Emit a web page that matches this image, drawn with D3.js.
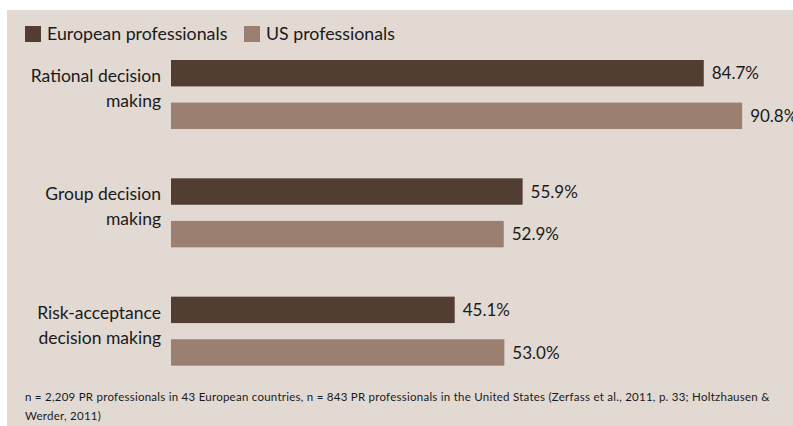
<!DOCTYPE html>
<html lang="en">
  <head>
    <meta charset="UTF-8" />
    <title>Decision making styles</title>
    <script src="https://cdn.jsdelivr.net/npm/d3@7"></script>
    <style>
      body { margin: 0; background: #fff; }
      svg { display: block; font-family: Lato, "Open Sans", sans-serif; }
    </style>
  </head>
  <body>
    <div id="chart"></div>
    <script>
      const categories = [["Rational decision", "making"], ["Group decision", "making"], ["Risk-acceptance", "decision making"]];
      const seriesNames = ["European professionals", "US professionals"];
      const european = [84.7, 55.9, 45.1];
      const us = [90.8, 52.9, 53.0];
      const colors = ["#523d33", "#9b8072"];

      const width = 793, height = 426;
      const svg = d3.select("#chart").append("svg")
        .attr("width", width)
        .attr("height", height);

      // background panel
      svg.append("rect")
        .attr("x", 7).attr("y", 10)
        .attr("width", width - 7).attr("height", height - 10)
        .attr("fill", "#e2d9d3");

      const x = d3.scaleLinear().domain([0, 100]).range([171, 171 + 629]);
      const y = d3.scaleBand().domain(d3.range(categories.length)).range([60, 415]).paddingInner(0);
      const sub = d3.scaleBand().domain([0, 1]).range([0, 69]).paddingInner(0.38);

      // legend
      const legend = svg.append("g");
      const legX = [25, 244];
      seriesNames.forEach((name, i) => {
        legend.append("rect")
          .attr("x", legX[i]).attr("y", 26)
          .attr("width", 16).attr("height", 16)
          .attr("fill", colors[i]);
        legend.append("text")
          .attr("x", legX[i] + 22).attr("y", 40)
          .attr("font-size", 17.8).attr("fill", "#1a1a1a")
          .text(name);
      });

      const groups = svg.selectAll(".grp")
        .data(categories.map((c, i) => ({ c, vals: [european[i], us[i]], i })))
        .join("g")
        .attr("class", "grp")
        .attr("transform", d => `translate(0,${y(d.i)})`);

      groups.selectAll("rect")
        .data(d => d.vals)
        .join("rect")
        .attr("x", x(0))
        .attr("y", (v, j) => sub(j))
        .attr("width", v => x(v) - x(0))
        .attr("height", sub.bandwidth())
        .attr("fill", (v, j) => colors[j]);

      groups.selectAll(".val")
        .data(d => d.vals)
        .join("text")
        .attr("class", "val")
        .attr("x", v => x(v) + 8)
        .attr("y", (v, j) => sub(j) + sub.bandwidth() / 2)
        .attr("dy", "0.36em")
        .attr("font-size", 17).attr("fill", "#1a1a1a")
        .text(v => v.toFixed(1) + "%");

      groups.selectAll(".lab")
        .data(d => d.c)
        .join("text")
        .attr("class", "lab")
        .attr("x", 161)
        .attr("y", (t, k) => 22 + k * 25)
        .attr("text-anchor", "end")
        .attr("font-size", 17.5).attr("fill", "#1a1a1a")
        .text(t => t);

      // footnote
      const note = ["n = 2,209 PR professionals in 43 European countries, n = 843 PR professionals in the United States (Zerfass et al., 2011, p. 33; Holtzhausen &",
                    "Werder, 2011)"];
      svg.selectAll(".note")
        .data(note)
        .join("text")
        .attr("class", "note")
        .attr("x", 25)
        .attr("y", (t, i) => 401 + i * 19)
        .attr("font-size", 11.5)
        .attr("letter-spacing", 0.25)
        .attr("fill", "#1a1a1a")
        .text(t => t);
    </script>
  </body>
</html>
